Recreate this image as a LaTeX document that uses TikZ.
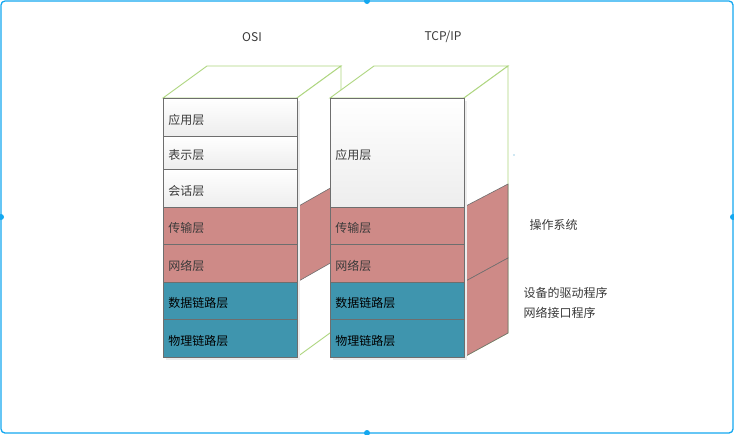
\documentclass[tikz,border=0pt]{standalone}
\usepackage{fontspec}
\setmainfont{Noto Sans CJK SC}
\begin{document}
\begin{tikzpicture}[x=1pt,y=-1pt,
  every node/.style={font=\fontsize{12}{14}\selectfont},
  frame/.style={draw=frameblue, line width=1.3pt, rounded corners=4pt},
  handle/.style={circle, fill=frameblue, inner sep=0pt, minimum size=6pt},
  facegreen/.style={draw=edgegreen, line width=0.9pt, fill=white},
  pinkside/.style={fill=layerpink, draw=edgegray, line width=0.6pt},
  layerbox/.style={draw=edgegray, line width=0.8pt, anchor=north west, minimum width=134pt,
     text width=124pt, inner xsep=5pt, align=left, text=textgray,
     text height=14pt, text depth=0pt},
  whitelayer/.style={layerbox, top color=white, bottom color=layerwhite},
  pinklayer/.style={layerbox, fill=layerpink},
  teallayer/.style={layerbox, fill=layerteal, text=black},
  shadowbox/.style={fill=black!7, draw=none},
  title/.style={text=textgray},
  sidelabel/.style={anchor=west, text=textgray}
]
\definecolor{frameblue}{HTML}{14A8F0}
\definecolor{edgegreen}{HTML}{AED67F}
\definecolor{edgegray}{HTML}{6E6E6E}
\definecolor{layerpink}{HTML}{CE8A87}
\definecolor{layerteal}{HTML}{3F95AE}
\definecolor{layerwhite}{HTML}{EDEDED}
\definecolor{textgray}{HTML}{3A3A3A}

\useasboundingbox (0,0) rectangle (734,434);
\fill[white] (0,0) rectangle (734,434);
\draw[frame] (1,1) rectangle (733,433);
\node[handle] (h1) at (367,1) {};
\node[handle] (h2) at (1,217) {};
\node[handle] (h3) at (733,217) {};
\node[handle] (h4) at (367,433) {};

% titles
\node[title] (tosi) at (252,37) {OSI};
\node[title] (ttcp) at (443,37) {TCP/IP};

% OSI 3D faces
\draw[facegreen] (163,98) -- (207,66) -- (341,66) -- (297,98) -- cycle;
\draw[facegreen] (297,98) -- (341,66) -- (341,325) -- (297,357) -- cycle;
\draw[pinkside] (297,207) -- (341,182) -- (341,257) -- (297,282) -- cycle;

% OSI shadow
\fill[shadowbox] (166,101) rectangle (300,360);
% OSI layers
\node[whitelayer, minimum height=38pt] (o1) at (163,98) {应用层};
\node[whitelayer, minimum height=33pt] (o2) at (163,136) {表示层};
\node[whitelayer, minimum height=38pt] (o3) at (163,169) {会话层};
\node[pinklayer, minimum height=37pt] (o4) at (163,207) {传输层};
\node[pinklayer, minimum height=38pt] (o5) at (163,244) {网络层};
\node[teallayer, minimum height=37pt] (o6) at (163,282) {数据链路层};
\node[teallayer, minimum height=38pt] (o7) at (163,319) {物理链路层};

% TCP/IP 3D faces
\draw[facegreen] (330,98) -- (374,66) -- (508,66) -- (464,98) -- cycle;
\draw[facegreen] (464,98) -- (508,66) -- (508,333) -- (464,357) -- cycle;
\draw[pinkside] (464,207) -- (508,184) -- (508,258) -- (464,282) -- cycle;
\draw[pinkside] (464,282) -- (508,258) -- (508,333) -- (464,357) -- cycle;

% TCP shadow
\fill[shadowbox] (333,101) rectangle (467,360);
% TCP layers
\node[whitelayer, minimum height=109pt] (t1) at (330,98) {应用层};
\node[pinklayer, minimum height=37pt] (t2) at (330,207) {传输层};
\node[pinklayer, minimum height=38pt] (t3) at (330,244) {网络层};
\node[teallayer, minimum height=37pt] (t4) at (330,282) {数据链路层};
\node[teallayer, minimum height=38pt] (t5) at (330,319) {物理链路层};

% side labels
\node[sidelabel] (s1) at (526,225) {操作系统};
\node[sidelabel] (s2) at (520,293) {设备的驱动程序};
\node[sidelabel] (s3) at (520,313) {网络接口程序};
\fill[frameblue!70!gray] (514,155) circle (0.6pt);
\end{tikzpicture}
\end{document}
